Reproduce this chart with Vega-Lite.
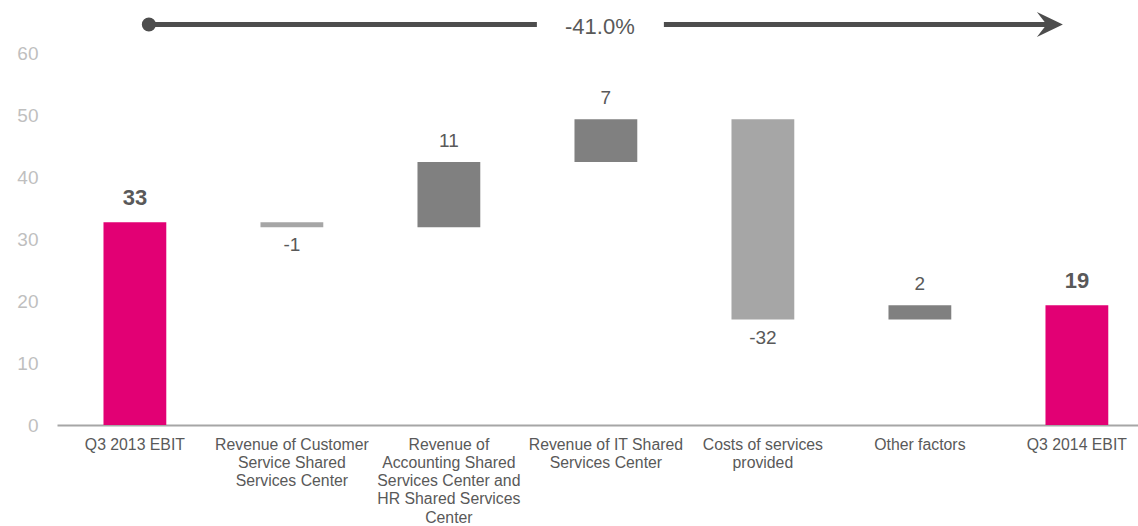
{
  "$schema": "https://vega.github.io/schema/vega-lite/v6.json",
  "autosize": "none",
  "width": 1081,
  "height": 403,
  "padding": {"left": 57, "top": 22, "right": 0, "bottom": 101},
  "config": {
    "view": {"stroke": null},
    "font": "Liberation Sans",
    "text": {"font": "Liberation Sans"}
  },
  "datasets": {
    "bars": [
      {"category": "Q3 2013 EBIT", "start": 0, "end": 32.7, "label": "33", "type": "total"},
      {"category": "Revenue of Customer Service Shared Services Center", "start": 32.7, "end": 31.9, "label": "-1", "type": "decrease"},
      {"category": "Revenue of Accounting Shared Services Center and HR Shared Services Center", "start": 31.9, "end": 42.4, "label": "11", "type": "increase"},
      {"category": "Revenue of IT Shared Services Center", "start": 42.4, "end": 49.3, "label": "7", "type": "increase"},
      {"category": "Costs of services provided", "start": 49.3, "end": 17.0, "label": "-32", "type": "decrease"},
      {"category": "Other factors", "start": 17.0, "end": 19.3, "label": "2", "type": "increase"},
      {"category": "Q3 2014 EBIT", "start": 0, "end": 19.3, "label": "19", "type": "total"}
    ],
    "arrow": [
      {"from": "Q3 2013 EBIT", "mid": "Revenue of IT Shared Services Center", "to": "Q3 2014 EBIT", "level": 64.6, "change": "-41.0%"}
    ]
  },
  "encoding": {
    "x": {
      "field": "category",
      "type": "nominal",
      "sort": null,
      "scale": {
        "domain": [
          "Q3 2013 EBIT",
          "Revenue of Customer Service Shared Services Center",
          "Revenue of Accounting Shared Services Center and HR Shared Services Center",
          "Revenue of IT Shared Services Center",
          "Costs of services provided",
          "Other factors",
          "Q3 2014 EBIT"
        ],
        "paddingInner": 0.6,
        "paddingOuter": 0.2427,
        "align": 0.61
      },
      "axis": {
        "title": null,
        "labelAngle": 0,
        "ticks": false,
        "domainColor": "#a6a6a6",
        "domainWidth": 2,
        "labelFont": "Liberation Sans",
        "labelFontSize": 15.8,
        "labelColor": "#595959",
        "labelLineHeight": 18.3,
        "labelPadding": 12,
        "labelBaseline": "top",
        "labelLimit": 300,
        "labelExpr": "datum.value == 'Revenue of Customer Service Shared Services Center' ? ['Revenue of Customer', 'Service Shared', 'Services Center'] : datum.value == 'Revenue of Accounting Shared Services Center and HR Shared Services Center' ? ['Revenue of', 'Accounting Shared', 'Services Center and', 'HR Shared Services', 'Center'] : datum.value == 'Revenue of IT Shared Services Center' ? ['Revenue of IT Shared', 'Services Center'] : datum.value == 'Costs of services provided' ? ['Costs of services', 'provided'] : datum.value"
      }
    }
  },
  "layer": [
    {
      "data": {"name": "bars"},
      "mark": {"type": "bar"},
      "encoding": {
        "y": {
          "field": "start",
          "type": "quantitative",
          "scale": {"domain": [0, 65], "nice": false},
          "axis": {
            "title": null,
            "values": [0, 10, 20, 30, 40, 50, 60],
            "domain": false,
            "ticks": false,
            "grid": false,
            "labelFont": "Liberation Sans",
            "labelFontSize": 19,
            "labelColor": "#bfbfbf",
            "labelPadding": 19
          }
        },
        "y2": {"field": "end"},
        "color": {
          "field": "type",
          "type": "nominal",
          "scale": {"domain": ["total", "increase", "decrease"], "range": ["#e20074", "#808080", "#a6a6a6"]},
          "legend": null
        }
      }
    },
    {
      "data": {"name": "bars"},
      "transform": [{"filter": "datum.type == 'total'"}],
      "mark": {"type": "text", "fontSize": 22, "fontWeight": "bold", "color": "#595959", "baseline": "alphabetic", "dy": -17},
      "encoding": {
        "y": {"field": "end", "type": "quantitative"},
        "text": {"field": "label"}
      }
    },
    {
      "data": {"name": "bars"},
      "transform": [{"filter": "datum.type == 'increase'"}],
      "mark": {"type": "text", "fontSize": 19, "color": "#595959", "baseline": "alphabetic", "dy": -15},
      "encoding": {
        "y": {"field": "end", "type": "quantitative"},
        "text": {"field": "label"}
      }
    },
    {
      "data": {"name": "bars"},
      "transform": [{"filter": "datum.type == 'decrease'"}],
      "mark": {"type": "text", "fontSize": 19, "color": "#595959", "baseline": "alphabetic", "dy": 24},
      "encoding": {
        "y": {"field": "end", "type": "quantitative"},
        "text": {"field": "label"}
      }
    },
    {
      "data": {"name": "arrow"},
      "mark": {"type": "rule", "color": "#4d4d4d", "strokeWidth": 5, "xOffset": 14, "x2Offset": -69},
      "encoding": {
        "x": {"field": "from", "type": "nominal"},
        "x2": {"field": "mid"},
        "y": {"field": "level", "type": "quantitative"}
      }
    },
    {
      "data": {"name": "arrow"},
      "mark": {"type": "rule", "color": "#4d4d4d", "strokeWidth": 5, "xOffset": 58, "x2Offset": -29},
      "encoding": {
        "x": {"field": "mid", "type": "nominal"},
        "x2": {"field": "to"},
        "y": {"field": "level", "type": "quantitative"}
      }
    },
    {
      "data": {"name": "arrow"},
      "mark": {"type": "point", "shape": "circle", "filled": true, "opacity": 1, "size": 200, "color": "#4d4d4d", "xOffset": 14},
      "encoding": {
        "x": {"field": "from", "type": "nominal"},
        "y": {"field": "level", "type": "quantitative"}
      }
    },
    {
      "data": {"name": "arrow"},
      "mark": {"type": "point", "shape": "M1,0L-1,-0.96L-0.25,0L-1,0.96Z", "filled": true, "opacity": 1, "size": 676, "color": "#4d4d4d", "strokeWidth": 0, "xOffset": -27},
      "encoding": {
        "x": {"field": "to", "type": "nominal"},
        "y": {"field": "level", "type": "quantitative"}
      }
    },
    {
      "data": {"name": "arrow"},
      "mark": {"type": "text", "fontSize": 22, "color": "#595959", "baseline": "alphabetic", "dy": 9.5, "dx": -6},
      "encoding": {
        "x": {"field": "mid", "type": "nominal"},
        "y": {"field": "level", "type": "quantitative"},
        "text": {"field": "change"}
      }
    }
  ]
}
